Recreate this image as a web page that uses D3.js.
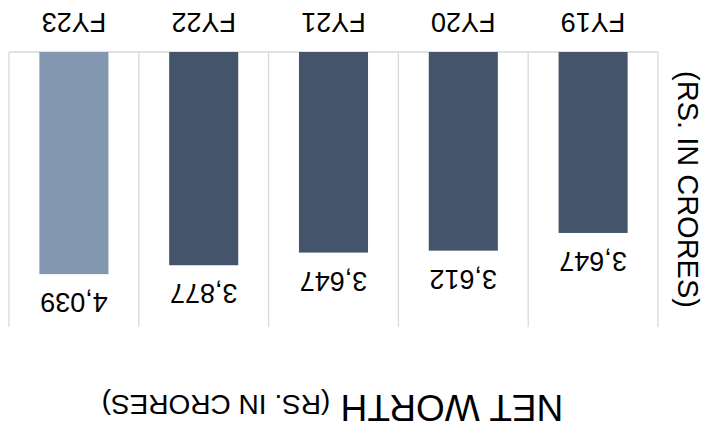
<!DOCTYPE html>
<html lang="en">
<head>
    <meta charset="UTF-8">
    <title>Net Worth</title>
    <script src="https://d3js.org/d3.v7.min.js"></script>
    <style>
        body { margin: 0; background: #fff; }
        text { font-family: "Liberation Sans", Arial, sans-serif; fill: #000; }
    </style>
</head>
<body>
<svg id="chart" width="705" height="435"></svg>
<script>
    // data
    const years = ["FY19", "FY20", "FY21", "FY22", "FY23"];
    const netWorth = [3290, 3612, 3647, 3877, 4039];          // bar heights
    const valueLabels = ["3,647", "3,612", "3,647", "3,877", "4,039"]; // printed labels
    const yMax = 5000;

    const W = 705, H = 435;
    const svg = d3.select("#chart");

    // the whole picture is drawn upside down
    const g = svg.append("g").attr("transform", `rotate(180, ${W / 2}, ${H / 2})`);

    const x = d3.scaleBand().domain(years).range([47, 696])
        .paddingInner(0.468).paddingOuter(0.234);
    const y = d3.scaleLinear().domain([0, yMax]).range([383, 108]);

    // grid: vertical separators between categories + baseline
    const step = x.step();
    const left = x.range()[0];
    const seps = d3.range(years.length + 1).map(i => left + i * step);
    g.selectAll("line.sep").data(seps).enter().append("line")
        .attr("x1", d => d).attr("x2", d => d)
        .attr("y1", y(0)).attr("y2", y(yMax))
        .attr("stroke", "#d9d9d9").attr("stroke-width", 1.3);
    g.append("line")
        .attr("x1", left).attr("x2", x.range()[1])
        .attr("y1", y(0)).attr("y2", y(0))
        .attr("stroke", "#d9d9d9").attr("stroke-width", 1.3);

    // bars
    g.selectAll("rect.bar").data(years).enter().append("rect")
        .attr("x", d => x(d))
        .attr("width", x.bandwidth())
        .attr("y", (d, i) => y(netWorth[i]))
        .attr("height", (d, i) => y(0) - y(netWorth[i]))
        .attr("fill", d => d === "FY23" ? "#8497b0" : "#44546a");

    // value labels
    g.selectAll("text.val").data(years).enter().append("text")
        .attr("x", d => x(d) + x.bandwidth() / 2)
        .attr("y", (d, i) => y(netWorth[i]) - 19)
        .attr("text-anchor", "middle")
        .style("font-size", "27px")
        .text((d, i) => valueLabels[i]);

    // category axis
    const xAxis = g.append("g").attr("transform", `translate(0,${y(0)})`)
        .call(d3.axisBottom(x).tickSize(0).tickPadding(0));
    xAxis.select(".domain").remove();
    xAxis.selectAll("text")
        .attr("dy", null).attr("y", 39)
        .style("font-size", "27px");

    // axis title
    g.append("text")
        .attr("transform", `translate(27, ${(y(0) + y(yMax)) / 2}) rotate(-90)`)
        .attr("text-anchor", "middle")
        .style("font-size", "29px")
        .text("(RS. IN CRORES)");

    // chart title
    const title = g.append("text")
        .attr("x", 372.5).attr("y", 40)
        .attr("text-anchor", "middle");
    title.append("tspan").style("font-size", "37px").text("NET WORTH ");
    title.append("tspan").style("font-size", "28px").text("(RS. IN CRORES)");
</script>
</body>
</html>
